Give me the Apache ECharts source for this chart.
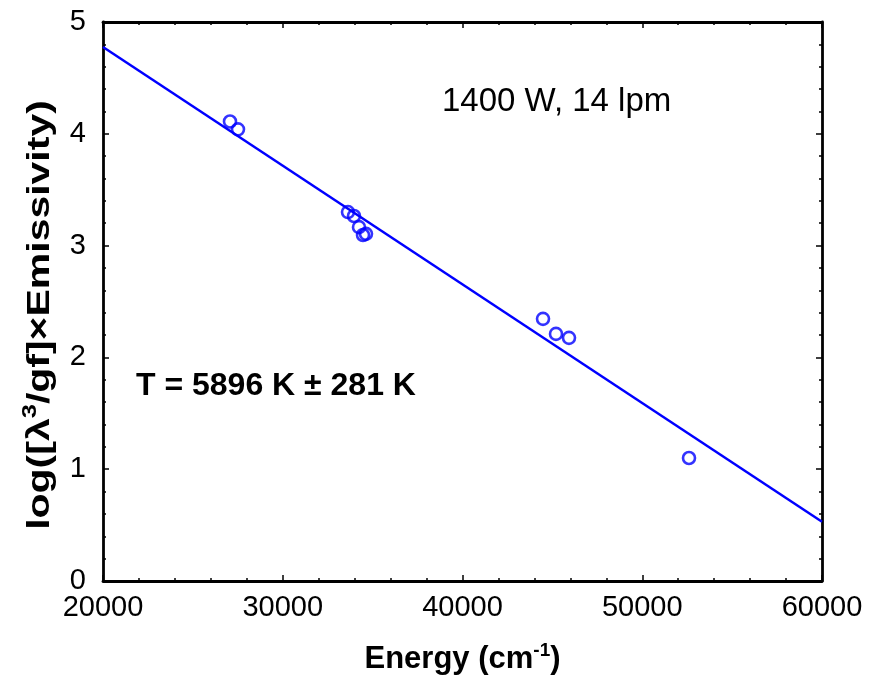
<!DOCTYPE html>
<html>
<head>
<meta charset="utf-8">
<script src="https://cdn.jsdelivr.net/npm/echarts@6/dist/echarts.min.js"></script>
<style>html,body{margin:0;padding:0;background:#fff;}#c{width:875px;height:690px;}</style>
</head>
<body>
<div id="c"></div>
<script>
// Data
var energy = [27065, 27510, 33630, 33964, 34242, 34465, 34631, 44479, 45202, 45925, 52601];
var logEmis = [4.11, 4.04, 3.30, 3.265, 3.165, 3.095, 3.105, 2.345, 2.21, 2.175, 1.10];
var fitX = [20000, 60000];
var fitY = [4.776, 0.53];
var xTicks = [20000, 30000, 40000, 50000, 60000];
var yTicks = [0, 1, 2, 3, 4, 5];
var annotation1 = '1400 W, 14 lpm';
var annotation2 = 'T = 5896 K \u00b1 281 K';

var pts = energy.map(function (e, i) { return [e, logEmis[i]]; });
var fit = fitX.map(function (e, i) { return [e, fitY[i]]; });

var FONT = '"Liberation Sans", Arial, sans-serif';
var chart = echarts.init(document.getElementById('c'), null, {renderer: 'canvas'});

function axisCommon(show) {
  return {
    axisLine: {show: true, onZero: false, lineStyle: {color: '#000', width: 2.8}},
    axisTick: {show: true, inside: true, length: 6, lineStyle: {color: '#000', width: 1.5}},
    minorTick: {show: true, splitNumber: 5, length: 3, lineStyle: {color: '#000', width: 1.5}},
    splitLine: {show: false},
    minorSplitLine: {show: false}
  };
}

var xMain = Object.assign(axisCommon(true), {
  type: 'value', min: 20000, max: 60000, interval: 10000, position: 'bottom',
  name: '{b|Energy (cm}{s|-1}{b|)}', nameLocation: 'middle', nameGap: 60,
  nameTextStyle: {rich: {
    b: {fontFamily: FONT, fontWeight: 'bold', fontSize: 31, color: '#000', lineHeight: 36},
    s: {fontFamily: FONT, fontWeight: 'bold', fontSize: 19, color: '#000', verticalAlign: 'top', lineHeight: 36}
  }}
});
xMain.axisLabel = {show: true, inside: false, fontFamily: FONT, fontSize: 29, color: '#000', margin: 12,
  formatter: function (v) { return xTicks.indexOf(v) >= 0 ? String(v) : ''; }};
var xTop = Object.assign(axisCommon(false), {type: 'value', min: 20000, max: 60000, interval: 10000, position: 'top'});
xTop.axisLabel = {show: false};

var yMain = Object.assign(axisCommon(true), {type: 'value', min: 0, max: 5, interval: 1, position: 'left'});
yMain.axisLabel = {show: true, inside: false, fontFamily: FONT, fontSize: 29, color: '#000', margin: 17,
  formatter: function (v) { return yTicks.indexOf(v) >= 0 ? String(v) : ''; }};
var yRight = Object.assign(axisCommon(false), {type: 'value', min: 0, max: 5, interval: 1, position: 'right'});
yRight.axisLabel = {show: false};

chart.setOption({
  animation: false,
  backgroundColor: '#fff',
  grid: {left: 103, right: 53, top: 22, bottom: 109, containLabel: false},
  xAxis: [xMain, xTop],
  yAxis: [yMain, yRight],
  graphic: [
    {type: 'text', left: 442, top: 85, style: {text: annotation1, fontFamily: FONT, fontSize: 33, fill: '#000'}},
    {type: 'text', left: 136, top: 370, style: {text: annotation2, fontFamily: FONT, fontWeight: 'bold', fontSize: 32, fill: '#000'}},
    {type: 'text', x: 40, y: 315, rotation: Math.PI / 2, scaleX: 1.28, scaleY: 1,
      style: {
        text: '{b|log([\u03bb}{s|3}{b|/gf]\u00d7Emissivity)}',
        align: 'center', verticalAlign: 'middle',
        rich: {
          b: {fontFamily: FONT, fontWeight: 'bold', fontSize: 32, fill: '#000', lineHeight: 40},
          s: {fontFamily: FONT, fontWeight: 'bold', fontSize: 20, fill: '#000', verticalAlign: 'top', lineHeight: 40}
        }
      }}
  ],
  series: [
    {type: 'line', data: fit, xAxisIndex: 0, yAxisIndex: 0, showSymbol: false, symbol: 'none',
      lineStyle: {color: '#0000ff', width: 2.5}, z: 2},
    {type: 'scatter', data: pts, xAxisIndex: 0, yAxisIndex: 0, symbol: 'circle', symbolSize: 12,
      itemStyle: {color: 'rgba(0,0,0,0)', borderColor: '#0000ff', borderWidth: 2.6}, z: 3}
  ]
});
</script>
</body>
</html>
